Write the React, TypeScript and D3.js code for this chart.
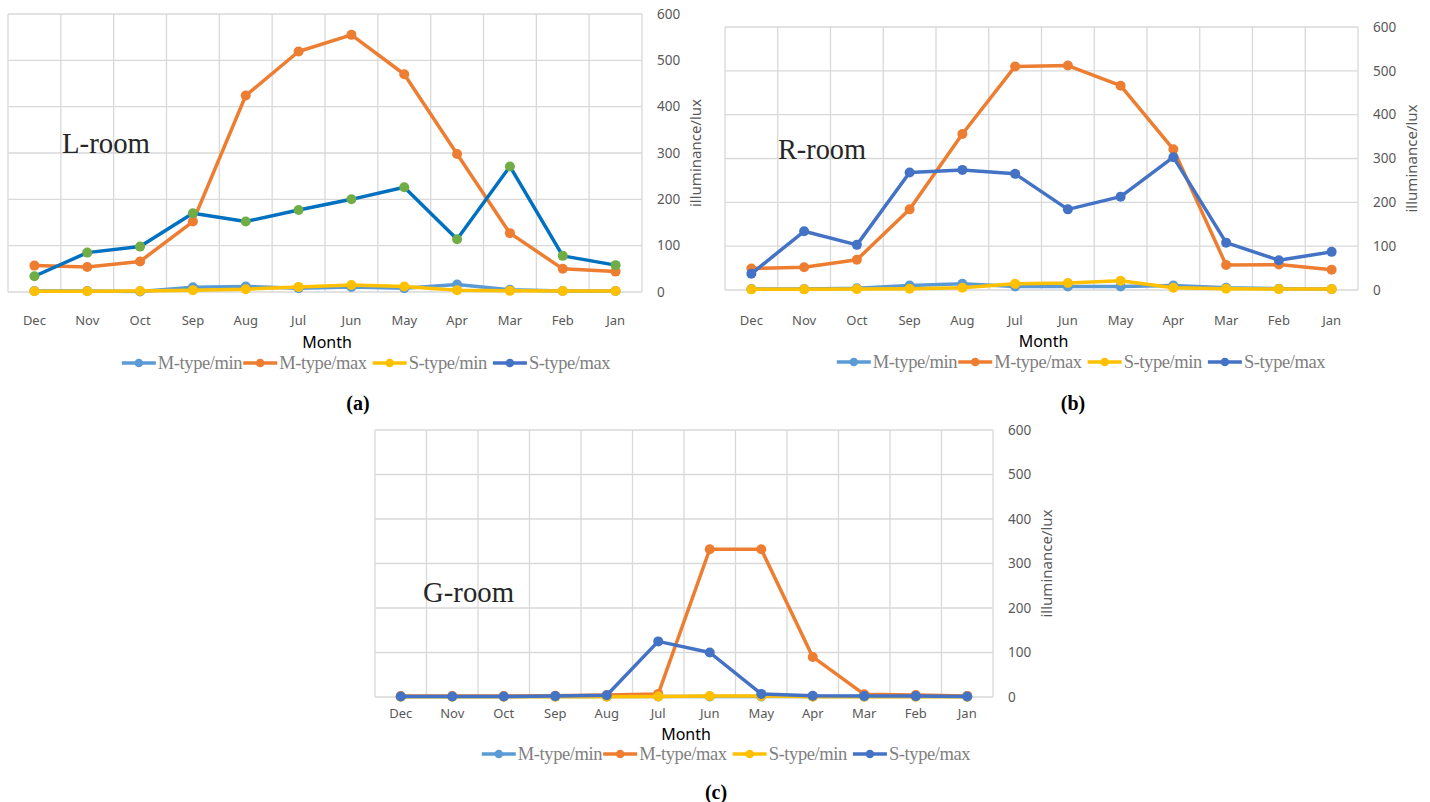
import React, { useEffect, useRef } from "react";
import * as d3 from "d3";

const months = ["Dec", "Nov", "Oct", "Sep", "Aug", "Jul", "Jun", "May", "Apr", "Mar", "Feb", "Jan"];
const yTicks = [0, 100, 200, 300, 400, 500, 600];
const seriesNames = ["M-type/min", "M-type/max", "S-type/min", "S-type/max"];

// L-room
const lMmin = [2, 2, 1, 10, 12, 8, 11, 8, 16, 5, 2, 2];
const lMmax = [57, 54, 66, 152, 424, 519, 555, 470, 298, 127, 50, 44];
const lSmin = [1.5, 1.5, 2, 4, 6, 11, 15, 12, 4, 2.5, 2, 2];
const lSmax = [34, 85, 98, 170, 152, 177, 200, 226, 114, 271, 78, 58];
// R-room
const rMmin = [2, 2, 4, 10, 14, 8, 8, 8, 10, 5, 3, 2];
const rMmax = [49, 52, 69, 184, 356, 510, 512, 466, 321, 57, 58, 46];
const rSmin = [1.5, 1.5, 2, 3, 5, 14, 16, 21, 5, 3, 2, 2];
const rSmax = [37, 134, 103, 268, 274, 265, 184, 213, 303, 108, 68, 87];
// G-room
const gMmin = [1, 1, 1, 1, 1, 1, 1, 1, 1, 1, 1, 1];
const gMmax = [2, 2, 2, 3, 4.5, 7, 332, 332, 90, 6, 4.5, 2.5];
const gSmin = [0.5, 0.5, 0.5, 0.5, 0.5, 1, 2, 2, 0.5, 0.5, 0.5, 0.5];
const gSmax = [1, 1, 1, 2, 4, 125, 100, 7, 3, 2, 2, 1];

const colors = ["#5B9BD5", "#ED7D31", "#FFC000", "#4472C4"];

const panels = [
  {
    room: "L-room", letter: "(a)", data: [lMmin, lMmax, lSmin, lSmax],
    box: { l: 8, r: 642, t: 14, b: 292 },
    labelY: 320, monthY: 342, legendY: 363, letterY: 403, letterX: 358, legendX: 366,
    roomX: 62, roomY: 153, sMaxLine: "#0070C0", sMaxDot: "#70AD47",
  },
  {
    room: "R-room", letter: "(b)", data: [rMmin, rMmax, rSmin, rSmax],
    box: { l: 725, r: 1358, t: 27, b: 290 },
    labelY: 320, monthY: 341, legendY: 362, letterY: 403, letterX: 1073, legendX: 1081,
    roomX: 778, roomY: 159, sMaxLine: colors[3], sMaxDot: colors[3],
  },
  {
    room: "G-room", letter: "(c)", data: [gMmin, gMmax, gSmin, gSmax],
    box: { l: 375, r: 993, t: 430, b: 697 },
    labelY: 713, monthY: 734, legendY: 754, letterY: 792, letterX: 716, legendX: 726,
    roomX: 423, roomY: 602, sMaxLine: colors[3], sMaxDot: colors[3],
  },
];

export default function App() {
  const ref = useRef<SVGSVGElement>(null);
  useEffect(() => {
    const svg = d3.select(ref.current);
    svg.selectAll("*").remove();
    const sans = "'Noto Sans', 'Open Sans', sans-serif";
    const serif = "'Liberation Serif', 'DejaVu Serif', serif";

    panels.forEach((p) => {
      const g = svg.append("g");
      const { l, r, t, b } = p.box;
      const x = d3.scaleBand<string>().domain(months).range([l, r]);
      const y = d3.scaleLinear().domain([0, 600]).range([b, t]);
      const cx = (m: string) => (x(m) as number) + x.bandwidth() / 2;

      // grid
      g.selectAll(".h").data(yTicks).enter().append("line")
        .attr("x1", l).attr("x2", r).attr("y1", (d) => y(d)).attr("y2", (d) => y(d))
        .attr("stroke", "#d9d9d9").attr("stroke-width", 1.3);
      const vx = months.map((m) => x(m) as number).concat([r]);
      g.selectAll(".v").data(vx).enter().append("line")
        .attr("x1", (d) => d).attr("x2", (d) => d).attr("y1", t).attr("y2", b)
        .attr("stroke", "#d9d9d9").attr("stroke-width", 1.3);

      // right axis labels
      g.selectAll(".yt").data(yTicks).enter().append("text")
        .attr("x", r + 15).attr("y", (d) => y(d)).attr("dy", "0.35em")
        .attr("font-family", sans).attr("font-size", 13.5).attr("fill", "#595959")
        .text((d) => String(d));
      g.append("text")
        .attr("transform", `translate(${r + 54},${(t + b) / 2}) rotate(-90)`)
        .attr("text-anchor", "middle").attr("dy", "0.35em")
        .attr("font-family", sans).attr("font-size", 15).attr("fill", "#595959")
        .text("illuminance/lux");

      // category labels
      g.selectAll(".xt").data(months).enter().append("text")
        .attr("x", (d) => cx(d)).attr("y", p.labelY).attr("dy", "0.35em")
        .attr("text-anchor", "middle")
        .attr("font-family", sans).attr("font-size", 13).attr("fill", "#595959")
        .text((d) => d);
      g.append("text").attr("x", (l + r) / 2 + 2).attr("y", p.monthY).attr("dy", "0.35em")
        .attr("text-anchor", "middle").attr("font-family", sans).attr("font-size", 16)
        .attr("fill", "#000").text("Month");

      // room label
      g.append("text").attr("x", p.roomX).attr("y", p.roomY)
        .attr("font-family", serif).attr("font-size", 30).attr("fill", "#262626")
        .attr("textLength", p.room === "G-room" ? 91 : 88).attr("lengthAdjust", "spacingAndGlyphs")
        .text(p.room);

      // series
      p.data.forEach((vals, si) => {
        const lineColor = si === 3 ? p.sMaxLine : colors[si];
        const dotColor = si === 3 ? p.sMaxDot : colors[si];
        const pts = months.map((m, i) => [cx(m), y(vals[i])] as [number, number]);
        g.append("path").attr("d", d3.line()(pts) as string)
          .attr("fill", "none").attr("stroke", lineColor).attr("stroke-width", 3.5)
          .attr("stroke-linejoin", "round");
        g.selectAll(null).data(pts).enter().append("circle")
          .attr("cx", (d) => d[0]).attr("cy", (d) => d[1]).attr("r", 5)
          .attr("fill", dotColor);
      });

      // legend
      const lg = g.append("g");
      let off = 0;
      seriesNames.forEach((name, i) => {
        const it = lg.append("g").attr("transform", `translate(${off},0)`);
        it.append("line").attr("x1", 0).attr("x2", 34).attr("y1", 0).attr("y2", 0)
          .attr("stroke", colors[i]).attr("stroke-width", 3.5);
        it.append("circle").attr("cx", 17).attr("cy", 0).attr("r", 4.3).attr("fill", colors[i]);
        const tx = it.append("text").attr("x", 36).attr("y", 0).attr("dy", "0.32em")
          .attr("font-family", serif).attr("font-size", 18.5).attr("fill", "#7f7f7f")
          .attr("letter-spacing", -0.4)
          .text(name);
        const w = (tx.node() as SVGTextElement).getComputedTextLength();
        off += 36 + w + (i === 0 ? 1 : 6);
      });
      const total = off - 6;
      lg.attr("transform", `translate(${p.legendX - total / 2},${p.legendY})`);

      // panel letter
      g.append("text").attr("x", p.letterX).attr("y", p.letterY).attr("dy", "0.35em")
        .attr("text-anchor", "middle").attr("font-family", serif).attr("font-weight", "bold")
        .attr("font-size", 20).attr("fill", "#000").text(p.letter);
    });
  }, []);

  return (
    <svg ref={ref} width={1430} height={802}
      style={{ position: "absolute", left: 0, top: 0, background: "#fff" }} />
  );
}
